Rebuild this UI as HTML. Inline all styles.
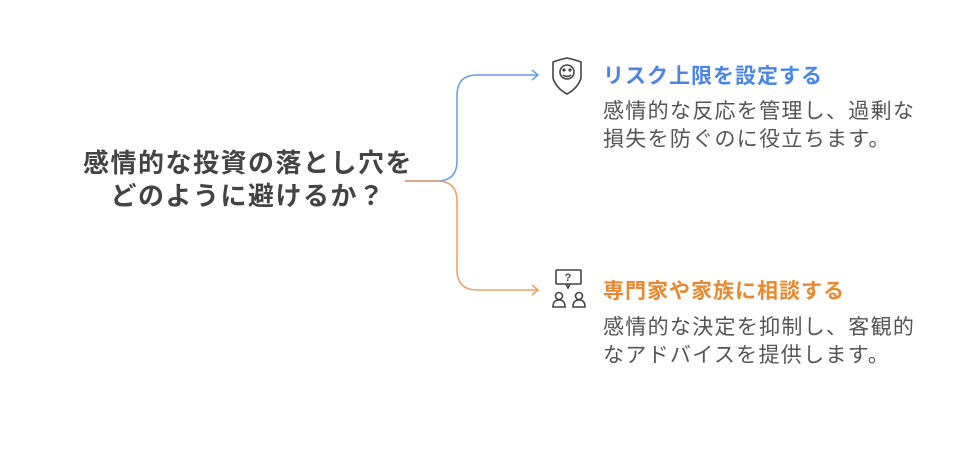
<!DOCTYPE html>
<html><head><meta charset="utf-8"><style>
body{margin:0;width:959px;height:454px;background:#fff;font-family:"Liberation Sans","Noto Sans CJK JP",sans-serif;position:relative;overflow:hidden}
.t{position:absolute;white-space:nowrap}
</style></head><body>
<svg width="959" height="454" style="position:absolute;left:0;top:0" fill="none">
<path d="M405 181 H437 Q457 181 457 161 V95 Q457 75 477 75 H538" stroke="#6a9ae8" stroke-width="1.5"/>
<path d="M532 70 L538 75 L532 80" stroke="#6a9ae8" stroke-width="1.5"/>
<path d="M405 181 H437 Q457 181 457 201 V270 Q457 290 477 290 H538" stroke="#e8a060" stroke-width="1.5"/>
<path d="M532 285 L538 290 L532 295" stroke="#e8a060" stroke-width="1.5"/>
<g stroke="#444" stroke-width="1.6">
<path d="M567 58 Q558 60 553 62 V78 Q556 88 567 94 Q578 88 581 78 V62 Q576 60 567 58Z"/>
<circle cx="567" cy="72" r="7"/>
<path d="M563 75 Q567 78 571 75"/>
<circle cx="564" cy="70" r="0.8" fill="#444"/><circle cx="570" cy="70" r="0.8" fill="#444"/>
<rect x="556" y="270" width="25" height="14" rx="1"/>
<path d="M566 284 L568 288 L570 284"/>
<circle cx="559" cy="296" r="3.5"/><path d="M553 307 Q553 300 559 300 Q565 300 565 307 Z"/>
<circle cx="579" cy="296" r="3.5"/><path d="M573 307 Q573 300 579 300 Q585 300 585 307 Z"/>
</g>
<text x="568" y="281" font-size="11" font-weight="bold" fill="#444" text-anchor="middle" font-family="Liberation Sans">?</text>
</svg>
<div class="t" style="left:70px;top:147px;width:356px;text-align:center;font-size:26px;letter-spacing:1.5px;font-weight:bold;color:#444;line-height:33px">感情的な投資の落とし穴を<br>どのように避けるか？</div>
<div class="t" style="left:603px;top:60px;font-size:21px;letter-spacing:1px;font-weight:bold;color:#4a86e8">リスク上限を設定する</div>
<div class="t" style="left:603px;top:98px;font-size:21px;letter-spacing:1.3px;color:#555;line-height:28px">感情的な反応を管理し、過剰な<br>損失を防ぐのに役立ちます。</div>
<div class="t" style="left:603px;top:275px;font-size:21px;letter-spacing:1px;font-weight:bold;color:#e8892f">専門家や家族に相談する</div>
<div class="t" style="left:603px;top:314px;font-size:21px;letter-spacing:1.3px;color:#555;line-height:28px">感情的な決定を抑制し、客観的<br>なアドバイスを提供します。</div>
</body></html>
